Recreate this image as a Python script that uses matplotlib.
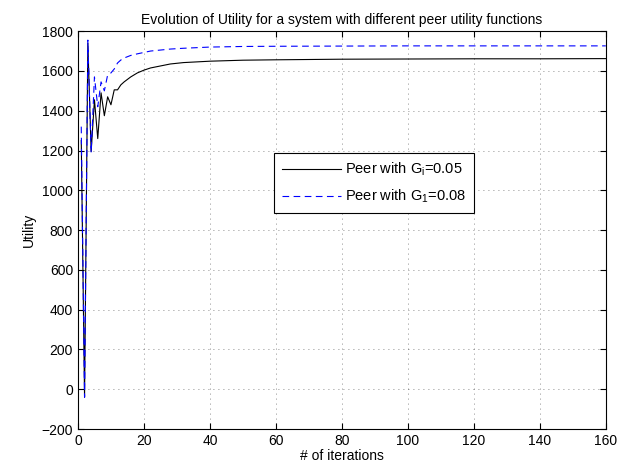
import matplotlib
matplotlib.use("Agg")
import matplotlib.pyplot as plt

# iterations and utility values
iters = [1, 2, 3, 4, 5, 6, 7, 8, 9, 10, 11, 12, 13, 14, 16, 18, 20, 22, 25, 28,
         32, 40, 50, 60, 80, 100, 120, 140, 160]
util_g005 = [1250, -40, 1740, 1195, 1455, 1260, 1490, 1375, 1470, 1430, 1505, 1505,
             1530, 1545, 1570, 1590, 1604, 1615, 1625, 1635, 1642, 1649, 1654, 1656,
             1659, 1660, 1661, 1661, 1662]
util_g008 = [1320, -40, 1755, 1190, 1570, 1420, 1545, 1500, 1580, 1590, 1610, 1640,
             1655, 1665, 1678, 1686, 1693, 1700, 1705, 1710, 1714, 1720, 1723, 1724,
             1725, 1726, 1726, 1726, 1726]

plt.rcParams['font.family'] = ['Liberation Sans', 'DejaVu Sans']
plt.rcParams['mathtext.fontset'] = 'custom'
plt.rcParams['mathtext.rm'] = 'Liberation Sans'
plt.rcParams['mathtext.it'] = 'Liberation Sans'

fig = plt.figure(figsize=(6.39, 4.72), dpi=100)
ax = fig.add_axes([0.122, 0.091, 0.826, 0.843])

ax.plot(iters, util_g005, color='black', lw=0.8, label=r'Peer with G$_\mathregular{i}$=0.05')
ax.plot(iters, util_g008, color='blue', lw=0.8, ls=(0, (6, 4)),
        label=r'Peer with G$_\mathregular{1}$=0.08')

ax.set_xlim(0, 160)
ax.set_ylim(-200, 1800)
ax.set_xticks(range(0, 161, 20))
ax.set_yticks(range(-200, 1801, 200))
ax.tick_params(direction='in', top=True, right=True, labelsize=10, length=4)
ax.grid(True, ls=(0, (1, 5)), color='black', lw=0.6, alpha=0.6)

ax.set_title('Evolution of Utility for a system with different peer utility functions',
             fontsize=10, pad=5)
ax.set_xlabel('# of iterations', fontsize=10, labelpad=1)
ax.set_ylabel('Utility', fontsize=10)

leg = ax.legend(loc='upper left', bbox_to_anchor=(0.358, 0.712), fontsize=10.5,
                fancybox=False, framealpha=1, edgecolor='black', handlelength=4.0,
                handletextpad=0.3, borderpad=0.55, labelspacing=0.65)
leg.get_frame().set_linewidth(0.8)

fig.savefig('out.png', dpi=100)
